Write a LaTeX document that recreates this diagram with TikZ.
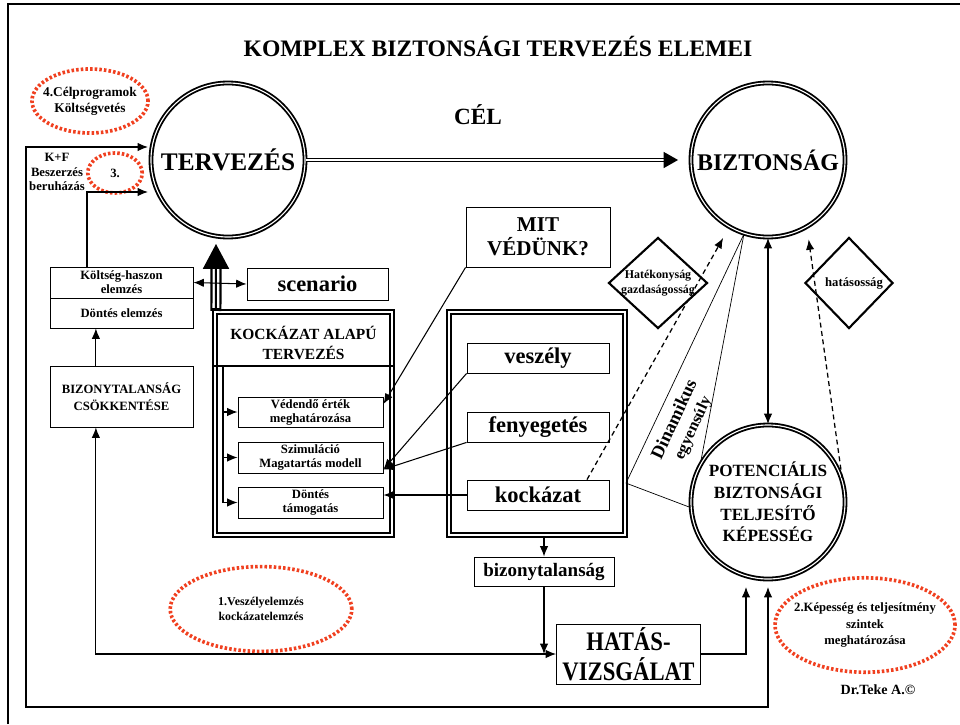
\documentclass[tikz,border=0pt]{standalone}
\usepackage{fontspec}
\setmainfont{Liberation Serif}
\usepackage{graphicx}
\usetikzlibrary{arrows.meta,shapes.geometric}
\definecolor{dotred}{RGB}{240,64,32}
\newcommand\bfsz[2]{\fontsize{#1}{#2}\selectfont\bfseries}

\tikzset{
  box/.style={draw,fill=white,align=center,inner sep=1pt,line width=0.6pt},
  dblbox/.style={draw,double,double distance=1pt,line width=1.4pt},
  dblcirc/.style={circle,draw,double,double distance=0.8pt,line width=1.3pt,minimum size=3.85cm,inner sep=0pt,align=center},
  reddots/.style={draw=dotred,line width=2.6pt,dash pattern=on 1.8pt off 1.5pt},
  dia/.style={diamond,draw,line width=1.5pt,align=center,inner sep=0pt},
  dashy/.style={line width=0.9pt,dash pattern=on 3.5pt off 2.5pt},
  >={Latex[length=2.6mm,width=2.1mm]},
}

\begin{document}
\begin{tikzpicture}[x=0.025cm,y=-0.025cm,line width=0.75pt]
\useasboundingbox (0,0) rectangle (960,724);
\draw[line width=1.5pt] (8,724) -- (8,4) -- (960,4);

\node[font=\bfsz{16.8}{19}] (title) at (498,47) {KOMPLEX BIZTONSÁGI TERVEZÉS ELEMEI};
\node[font=\bfsz{16.5}{19}] (cel) at (478,115) {CÉL};

\node[dblcirc,font=\bfsz{18}{21}] (terv) at (228,160) {TERVEZÉS};
\node[dblcirc,font=\bfsz{17}{20}] (bizt) at (768,160) {BIZTONSÁG};
\node[dblcirc,font=\bfsz{12.2}{15.5}] (potenc) at (768,502) {POTENCIÁLIS\\BIZTONSÁGI\\TELJESÍTŐ\\KÉPESSÉG};

\node[font=\bfsz{9.5}{11.5},align=center] (ell4) at (90,101) {4.Célprogramok\\Költségvetés};
\draw[reddots] (ell4.center) ellipse [x radius=1.45cm,y radius=0.8cm];
\node[font=\bfsz{9}{11}] (ell3) at (115,173) {3.};
\draw[reddots] (ell3.center) ellipse [x radius=0.68cm,y radius=0.5cm];
\node[font=\bfsz{8.5}{11},align=center] (ell1) at (261,609) {1.Veszélyelemzés\\kockázatelemzés};
\draw[reddots] (ell1.center) ellipse [x radius=2.27cm,y radius=1.06cm];
\node[font=\bfsz{9}{11.5},align=center] (ell2) at (865,625) {2.Képesség és teljesítmény\\szintek\\meghatározása};
\draw[reddots] (ell2.center) ellipse [x radius=2.25cm,y radius=1.18cm];

\node[font=\bfsz{9}{10.5},align=center] (kftxt) at (57,172) {K+F\\Beszerzés\\beruházás};

\node[box,minimum width=3.575cm,minimum height=0.775cm,font=\bfsz{9}{10}] (koltseg) at (121.5,282.5) {Költség-haszon\\elemzés};
\node[box,minimum width=3.575cm,minimum height=0.75cm,font=\bfsz{9}{10}] (delem) at (121.5,313) {Döntés elemzés};
\node[box,minimum width=3.575cm,minimum height=1.525cm,font=\bfsz{9}{12}] (bizcs) at (121.5,396.5) {BIZONYTALANSÁG\\CSÖKKENTÉSE};
\node[box,minimum width=3.525cm,minimum height=0.8cm,font=\bfsz{16}{18}] (scen) at (317.5,284) {scenario};

\node[dblbox,minimum width=4.425cm,minimum height=5.575cm] (kock) at (303.5,423.5) {};
\node[dblbox,minimum width=4.4cm,minimum height=5.575cm] (rbox) at (537,423.5) {};
\node[font=\bfsz{11}{14},align=center] (kocktxt) at (303.5,343) {KOCKÁZAT ALAPÚ\\TERVEZÉS};
\coordinate (kl) at (223,366);
\draw (kock.west |- kl) -- (kock.east |- kl);

\node[box,minimum width=3.625cm,minimum height=0.75cm,font=\bfsz{9}{10}] (vedendo) at (310.5,412) {Védendő érték\\meghatározása};
\node[box,minimum width=3.625cm,minimum height=0.775cm,font=\bfsz{9}{10}] (szimul) at (310.5,457.5) {Szimuláció\\Magatartás modell};
\node[box,minimum width=3.625cm,minimum height=0.775cm,font=\bfsz{9}{10}] (dontes) at (310.5,502.5) {Döntés\\támogatás};

\node[box,minimum width=3.55cm,minimum height=0.75cm,font=\bfsz{16}{18}] (veszely) at (538,358) {veszély};
\node[box,minimum width=3.55cm,minimum height=0.75cm,font=\bfsz{16}{18}] (fenyeget) at (538,427) {fenyegetés};
\node[box,minimum width=3.55cm,minimum height=0.75cm,font=\bfsz{16}{18}] (kockazat) at (538,495) {kockázat};
\node[box,minimum width=3.6cm,minimum height=1.5cm,font=\bfsz{15}{17}] (mit) at (538,237) {MIT\\VÉDÜNK?};
\node[box,minimum width=3.5cm,minimum height=0.725cm,font=\bfsz{13.5}{16}] (bizony) at (544,571.5) {bizonytalanság};
\node[box,minimum width=3.6cm,minimum height=1.5cm,font=\bfsz{19}{21}] (hatas) at (628.5,654) {\scalebox{0.85}[1]{HATÁS-}\\\scalebox{0.85}[1]{VIZSGÁLAT}};

\node[dia,minimum width=2.475cm,minimum height=2.275cm] (hatek) at (658,283) {};
\node[font=\bfsz{8.5}{11},align=center] (hatektxt) at (hatek) {Hatékonyság\\gazdaságosság};
\node[dia,minimum width=2.2cm,minimum height=2.275cm] (hatasos) at (849,283) {};
\node[font=\bfsz{9}{11}] (hatasostxt) at (854,283) {hatásosság};

\node[rotate=65,align=center,font=\bfsz{13}{14}] (dinam) at (684,424) {Dinamikus\\{\fontsize{11.5}{13}\selectfont egyensúly}};
\node[font=\bfsz{10}{12}] (teke) at (878,690) {Dr.Teke A.©};

% main arrow
\draw[line width=1.1pt,double,double distance=1.1pt] (terv.east) -- ([xshift=-0.6cm]bizt.west);
\draw[line width=0.8pt,-{Triangle[length=0.36cm,width=0.4cm]}] ([xshift=-0.65cm]bizt.west) -- ([xshift=-0.3cm]bizt.west);

% big arrow up
\coordinate (bigtip) at (216,244);
\draw[line width=0.28cm] ([xshift=-2.19cm]kock.north) -- ([yshift=-0.55cm]bigtip);
\draw[line width=0.17cm,white,shorten <=0.08cm] ([xshift=-2.19cm]kock.north) -- ([yshift=-0.55cm]bigtip);
\draw[line width=0.05cm] ([xshift=-2.19cm]kock.north) -- ([yshift=-0.55cm]bigtip);
\fill ([shift={(-0.33cm,-0.62cm)}]bigtip) -- ([shift={(0.33cm,-0.62cm)}]bigtip) -- (bigtip) -- cycle;

\coordinate (lt) at (26,147);
\coordinate (lb) at (26,707);
\coordinate (tin1) at (148,147);
\coordinate (pin1) at (768,587);
\draw[<->] (tin1) -- (lt) -- (lb) -| (pin1);
\coordinate (kfc) at (87,192);
\coordinate (tin2) at (148,192);
\draw[->] (kfc |- koltseg.north) -- (kfc) -- (tin2);

\draw[<->] (koltseg.east) -- (scen.west);
\draw[->] ([xshift=-0.64cm]bizcs.north) -- ([xshift=-0.64cm]delem.south);
\draw[<->] ([xshift=-0.64cm]bizcs.south) |- (hatas.west);
\draw[->] (bizony.north |- rbox.south) -- (bizony.north);
\draw[->] (bizony.south) -- (bizony.south |- hatas.west);
\coordinate (pin2) at (746,587);
\draw[->] (hatas.east) -| (pin2);
\draw[<->] (bizt.south) -- (potenc.north);

\draw[->] (kl) |- (vedendo.west);
\draw[->] (kl) |- (szimul.west);
\draw[->] (kl) |- (dontes.west);
\draw[->] (mit.south west) -- ([yshift=0.2cm]vedendo.east);
\draw[->] (veszely.south west) -- ([yshift=0.1cm]szimul.south east);
\draw[->] (fenyeget.south west) -- ([yshift=0.1cm]szimul.south east);
\draw[->] (kockazat.west) -- (kockazat.west -| dontes.east);

\draw[dashy,->,shorten >=0.3cm] ([xshift=1.225cm]kockazat.north) -- (bizt.240);
\draw[dashy,->,shorten >=0.3cm] (potenc.18) -- (bizt.300);
\coordinate (rb) at ([yshift=-1.49cm]rbox.east);
\draw[line width=0.5pt] (bizt.252) -- (rb) -- (potenc.184);
\draw[line width=0.5pt] (bizt.252) -- (potenc.150);
\end{tikzpicture}
\end{document}
